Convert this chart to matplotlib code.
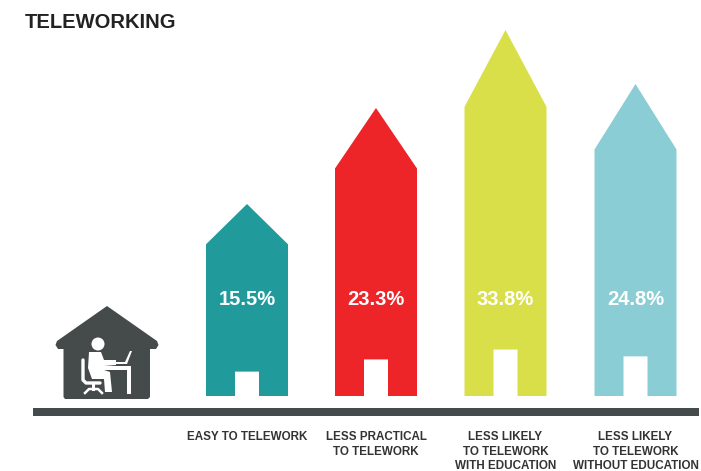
import numpy as np
import matplotlib
matplotlib.use("Agg")
import matplotlib.pyplot as plt
from matplotlib.patches import Circle, Polygon, Rectangle

plt.rcParams['font.family'] = ['Liberation Sans', 'DejaVu Sans']

categories = ["EASY TO TELEWORK",
              "LESS PRACTICAL\nTO TELEWORK",
              "LESS LIKELY\nTO TELEWORK\nWITH EDUCATION",
              "LESS LIKELY\nTO TELEWORK\nWITHOUT EDUCATION"]
shares = [15.5, 23.3, 33.8, 24.8]
house_colors = ["#219a9c", "#ed2529", "#d9df49", "#8bcdd5"]

# the houses are not drawn to a linear scale, so the y axis bends through these knots
scale_values = [0, 15.5, 23.3, 24.8, 33.8, 41.5]
scale_heights = [0, 192, 288, 312, 366, 396]

shoulder_frac = 0.79
door_frac = 0.127

dark = "#454a4b"
W, H = 701, 471
base_y = 396


def forward(v):
    return np.interp(v, scale_values, scale_heights)


def inverse(h):
    return np.interp(h, scale_heights, scale_values)


fig = plt.figure(figsize=(W / 100, H / 100), dpi=100, facecolor="white")

# houses sit on their own axes with the bent y scale, x in pixels
hx = fig.add_axes([0, 1 - base_y / H, 1, base_y / H])
hx.set_xlim(0, W)
hx.set_yscale("function", functions=(forward, inverse))
hx.set_ylim(0, 41.5)
hx.axis("off")

# pixel layer on top for the text, ground line and icon
ax = fig.add_axes([0, 0, 1, 1])
ax.set_xlim(0, W)
ax.set_ylim(H, 0)
ax.axis("off")
ax.patch.set_alpha(0)

centers = [247, 376, 505.5, 635.5]
half_w = 41
door_half = 12

for i in range(len(shares)):
    c = centers[i]
    v = shares[i]
    shoulder = inverse(forward(v) * shoulder_frac)
    door = inverse(forward(v) * door_frac)
    hx.add_patch(Polygon([(c - half_w, 0), (c - half_w, shoulder), (c, v),
                          (c + half_w, shoulder), (c + half_w, 0),
                          (c + door_half, 0), (c + door_half, door),
                          (c - door_half, door), (c - door_half, 0)],
                         closed=True, fc=house_colors[i], ec="none"))
    ax.text(c, 299.5, str(v) + "%", color="white", fontsize=14.5, fontweight="bold",
            ha="center", va="center", zorder=5)
    ax.text(c, 431, categories[i], color="#333333", fontsize=8.4, fontweight="bold",
            ha="center", va="top", linespacing=1.3)

ax.text(25, 22, "TELEWORKING", color="#222222", fontsize=14.5, fontweight="bold",
        ha="left", va="center")

# ground line
ax.add_patch(Rectangle((33, 408), 666, 8, fc=dark, ec="none"))

# small house with the person at a desk
ax.add_patch(Polygon([(107, 306), (157, 341), (158.5, 345), (156, 349), (150, 349),
                      (150, 397), (148, 399), (65, 399), (63.5, 397), (63.5, 349),
                      (58, 349), (55.5, 345), (57, 341)],
                     closed=True, fc=dark, ec="none"))
ax.add_patch(Circle((98, 344), 6.5, fc="white", ec="none"))
# torso and leg
ax.add_patch(Polygon([(89, 352), (101, 352), (104, 360), (116, 360), (116, 365),
                      (104, 366), (104, 370), (110, 372), (112, 392), (105, 392),
                      (104, 379), (92, 379), (88, 368)],
                     closed=True, fc="white", ec="none"))
# chair
ax.plot([83, 83, 86, 100], [360, 380, 383, 383], color="white", lw=2.4, solid_capstyle="round")
ax.plot([93, 93], [383, 389], color="white", lw=2.2)
ax.plot([85, 89, 98, 102], [393, 389, 389, 393], color="white", lw=1.8)
# desk and laptop
ax.add_patch(Rectangle((104, 366), 27, 4, fc="white", ec="none"))
ax.add_patch(Rectangle((126.5, 370), 4, 24, fc="white", ec="none"))
ax.add_patch(Polygon([(116, 364), (127, 364), (132, 351), (130, 351), (125, 362), (116, 362)],
                     closed=True, fc="white", ec="none"))

fig.savefig("out.png", dpi=100)
